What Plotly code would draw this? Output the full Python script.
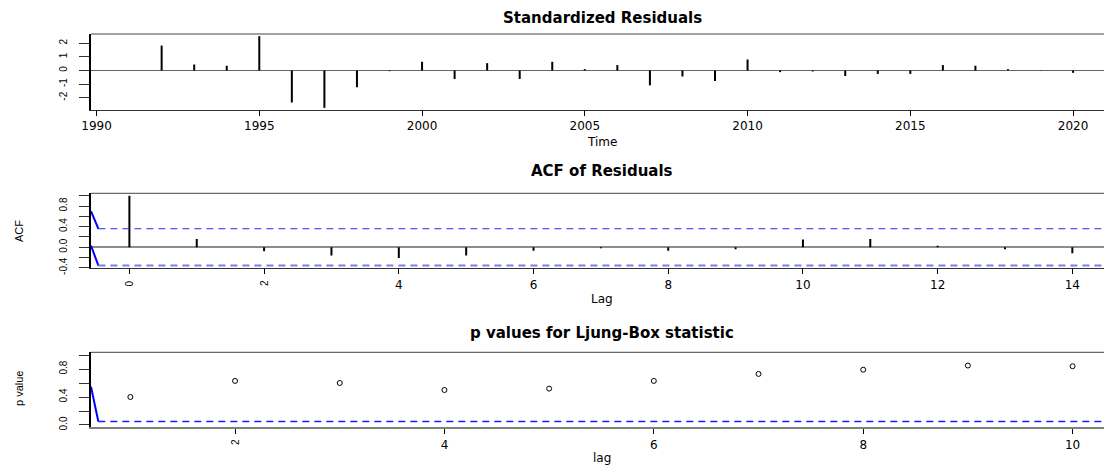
import numpy as np
import plotly.graph_objects as go

# ---- data -------------------------------------------------------------
years = list(range(1991, 2021))
std_resid = [0.0, 1.83, 0.44, 0.35, 2.52, -2.35, -2.74, -1.23, -0.05, 0.64,
             -0.62, 0.54, -0.62, 0.64, 0.10, 0.40, -1.09, -0.44, -0.77, 0.81,
             -0.12, -0.07, -0.40, -0.25, -0.25, 0.40, 0.35, 0.10, -0.02, -0.17]

acf_lags = list(range(0, 15))
acf_vals = [1.0, 0.16, -0.08, -0.16, -0.21, -0.16, -0.07, -0.02, -0.07, -0.04,
            0.15, 0.16, 0.03, -0.04, -0.12]

lb_lags = list(range(1, 11))
lb_pvals = [0.40, 0.63, 0.60, 0.50, 0.52, 0.63, 0.73, 0.79, 0.85, 0.84]

n_obs = len(years)
acf_ci = 1.96 / np.sqrt(n_obs)
p_level = 0.05

# short solid lead-in strokes at the left edge of the bound lines
acf_lead_x = [-0.57, -0.46]
acf_upper_lead = [0.70, acf_ci]
acf_lower_lead = [0.03, -acf_ci]
lb_lead_x = [0.624, 0.694]
lb_lead = [0.547, p_level]

time_ticks = [1990, 1995, 2000, 2005, 2010, 2015, 2020]
resid_ticks = [-2, -1, 0, 1, 2]
acf_ticks = [-0.4, -0.2, 0.0, 0.2, 0.4, 0.6, 0.8, 1.0]
acf_ticktext = ["-0.4", "", "0.0", "", "0.4", "", "0.8", ""]
lb_ticks = [0.0, 0.2, 0.4, 0.6, 0.8, 1.0]
lb_ticktext = ["0.0", "", "0.4", "", "0.8", ""]

# ---- layout helpers ---------------------------------------------------
W, H = 1104, 466
LEFT = 91 / W


def py(pix):
    """Pixel row (from top) to paper y."""
    return 1 - pix / H


def px(pix):
    return pix / W


def stems(xs, ys):
    sx, sy = [], []
    for x, y in zip(xs, ys):
        sx += [x, x, None]
        sy += [0, y, None]
    return sx, sy


TICK_FONT = dict(family="DejaVu Sans", size=12, color="black")
YTICK_FONT = dict(family="Liberation Sans, Arial", size=10, color="black")
TITLE_FONT = dict(family="DejaVu Sans", size=15, color="black", weight="bold")
LAB_FONT = dict(family="DejaVu Sans", size=12, color="black")
YLAB_FONT = dict(family="Liberation Sans, Arial", size=11, color="black")
BLUE = "#2b2bf0"

fig = go.Figure()

# panel 1: standardized residuals
sx, sy = stems(years, std_resid)
fig.add_trace(go.Scatter(x=sx, y=sy, mode="lines", xaxis="x", yaxis="y",
                         line=dict(color="black", width=2), hoverinfo="skip"))

# panel 2: ACF of residuals
ax, ay = stems(acf_lags, acf_vals)
fig.add_trace(go.Scatter(x=ax, y=ay, mode="lines", xaxis="x2", yaxis="y2",
                         line=dict(color="black", width=2), hoverinfo="skip"))
for lead, level, col, w in [(acf_upper_lead, acf_ci, BLUE, 1.2),
                            (acf_lower_lead, -acf_ci, "#7d7df2", 2)]:
    fig.add_trace(go.Scatter(x=acf_lead_x, y=lead, mode="lines", xaxis="x2",
                             yaxis="y2", line=dict(color="#0000ff", width=2)))
    fig.add_trace(go.Scatter(x=[acf_lead_x[1], 14.6], y=[level, level],
                             mode="lines", xaxis="x2", yaxis="y2",
                             line=dict(color=col, width=w, dash="7px,5px")))

# panel 3: Ljung-Box p values
fig.add_trace(go.Scatter(x=lb_lags, y=lb_pvals, mode="markers", xaxis="x3",
                         yaxis="y3",
                         marker=dict(symbol="circle-open", size=5,
                                     color="black", line=dict(width=1))))
fig.add_trace(go.Scatter(x=lb_lead_x, y=lb_lead, mode="lines", xaxis="x3",
                         yaxis="y3", line=dict(color="#0000ff", width=2)))
fig.add_trace(go.Scatter(x=[lb_lead_x[1], 10.5], y=[p_level, p_level],
                         mode="lines", xaxis="x3", yaxis="y3",
                         line=dict(color="#1a1aff", width=1.3,
                                   dash="7px,5px")))


def xaxis(rng, tickvals, ticktext, anchor, linecolor, linewidth):
    return dict(domain=[LEFT, 1], range=rng, anchor=anchor, automargin=False,
                tickmode="array", tickvals=tickvals, ticktext=ticktext,
                ticks="outside", ticklen=5, tickwidth=1, tickcolor="black",
                tickfont=TICK_FONT, showline=True, linecolor=linecolor,
                linewidth=linewidth, showgrid=False, zeroline=False,
                fixedrange=True)


def yaxis(dom, rng, tickvals, ticktext, anchor, zcol, zw):
    return dict(domain=dom, range=rng, anchor=anchor, automargin=False,
                tickmode="array",
                tickvals=tickvals, ticktext=ticktext, tickangle=-90,
                ticks="outside", ticklen=10, tickwidth=1, tickcolor="#333",
                tickfont=YTICK_FONT, ticklabelstandoff=8, showline=True,
                linecolor="black", linewidth=2, showgrid=False,
                zeroline=True, zerolinecolor=zcol, zerolinewidth=zw,
                fixedrange=True)


fig.update_layout(
    width=W, height=H, margin=dict(l=0, r=0, t=0, b=0, autoexpand=False),
    paper_bgcolor="white", plot_bgcolor="white", showlegend=False,
    xaxis=xaxis([1989.83, 2020.95], time_ticks, [str(t) for t in time_ticks],
                "y", "#333", 1),
    yaxis=yaxis([py(110), py(34)], [-2.90, 2.68], resid_ticks,
                [str(t) for t in resid_ticks], "x", "#666", 1),
    xaxis2=xaxis([-0.57, 14.47], list(range(0, 15, 2)),
                 ["", "", "4", "6", "8", "10", "12", "14"], "y2", "#333", 1),
    yaxis2=yaxis([py(268.3), py(193.3)], [-0.41, 1.047], acf_ticks,
                 acf_ticktext, "x2", "#8c8c8c", 1.5),
    xaxis3=xaxis([0.624, 10.30], [2, 4, 6, 8, 10],
                 ["", "4", "6", "8", "10"], "y3", "#808080", 2),
    yaxis3=yaxis([py(427.3), py(352.3)], [-0.033, 1.039], lb_ticks,
                 lb_ticktext, "x3", "rgba(0,0,0,0)", 0),
)

# top frame lines
for yr in ["y", "y2", "y3"]:
    fig.add_shape(type="line", xref="paper", yref=f"{yr} domain",
                  x0=LEFT, x1=1, y0=1, y1=1,
                  line=dict(color="#444", width=1))

# titles and axis labels
titles = [("Standardized Residuals", 18), ("ACF of Residuals", 171),
          ("p values for Ljung-Box statistic", 332.5)]
for txt, yy in titles:
    fig.add_annotation(text=txt, x=px(602), y=py(yy), xref="paper",
                       yref="paper", showarrow=False, font=TITLE_FONT,
                       xanchor="center", yanchor="middle")

for txt, yy in [("Time", 142), ("Lag", 299), ("lag", 458)]:
    fig.add_annotation(text=txt, x=px(602), y=py(yy), xref="paper",
                       yref="paper", showarrow=False, font=LAB_FONT,
                       xanchor="center", yanchor="middle")

for txt, yy in [("ACF", 231), ("p value", 389)]:
    fig.add_annotation(text=txt, x=px(19), y=py(yy), xref="paper",
                       yref="paper", showarrow=False, font=YLAB_FONT,
                       textangle=-90, xanchor="center", yanchor="middle")

# the leftmost lag labels are drawn sideways
for lag, axref, yy in [(0, "x2", 283), (2, "x2", 283), (2, "x3", 442)]:
    fig.add_annotation(text=str(lag), x=lag, y=py(yy), xref=axref,
                       yref="paper", showarrow=False, font=YTICK_FONT,
                       textangle=-90, xanchor="center", yanchor="middle")

fig.write_html("out.html")
